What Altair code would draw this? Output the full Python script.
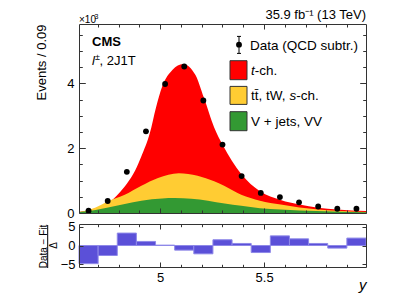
import altair as alt
import pandas as pd

# ---------------- data ----------------
bin_centers = [4.656, 4.748, 4.840, 4.932, 5.024, 5.116, 5.208, 5.300,
               5.392, 5.484, 5.576, 5.668, 5.760, 5.852, 5.944]
data_vals = [0.07, 0.37, 1.27, 2.52, 3.98, 4.52, 3.47, 2.11,
             1.14, 0.62, 0.49, 0.33, 0.20, 0.13, 0.13]          # x10^3 events
resid_vals = [-4.9, -2.7, 3.35, 1.1, 0.1, -1.25, -2.25, 1.55,
              0.55, -1.9, 2.6, 1.8, 0.55, -0.7, 2.0]
bin_half = 0.046

# stacked fit templates (cumulative heights, x10^3)
tch_x = [4.61, 4.69, 4.75, 4.80, 4.84, 4.88, 4.91, 4.95, 4.98, 5.01, 5.06, 5.11,
         5.17, 5.21, 5.26, 5.30, 5.39, 5.48, 5.58, 5.67, 5.76, 5.85, 5.99]
tch_y = [0.03, 0.15, 0.30, 0.59, 0.90, 1.31, 1.75, 2.45, 3.25, 3.90, 4.42, 4.60,
         4.26, 3.57, 2.64, 2.11, 1.20, 0.67, 0.40, 0.26, 0.16, 0.11, 0.06]
top_x = [4.61, 4.69, 4.75, 4.83, 4.91, 4.99, 5.09, 5.18, 5.26, 5.31, 5.39, 5.48,
         5.58, 5.67, 5.76, 5.85, 5.99]
top_y = [0.03, 0.17, 0.36, 0.56, 0.84, 1.08, 1.23, 1.15, 0.98, 0.83, 0.56, 0.38,
         0.26, 0.17, 0.11, 0.07, 0.03]
vj_x = [4.61, 4.69, 4.75, 4.83, 4.91, 5.01, 5.07, 5.15, 5.23, 5.31, 5.39, 5.48,
        5.58, 5.67, 5.83, 5.99]
vj_y = [0.03, 0.09, 0.17, 0.28, 0.38, 0.45, 0.46, 0.44, 0.38, 0.29, 0.22, 0.15,
        0.11, 0.08, 0.05, 0.02]

x_minor = [4.7, 4.8, 4.9, 5.1, 5.2, 5.3, 5.4, 5.6, 5.7, 5.8, 5.9]
x_major = [5.0, 5.5]
y_minor = [0.5, 1.0, 1.5, 2.5, 3.0, 3.5, 4.5, 5.0, 5.5]
y_major = [0, 2, 4]
r_ticks = [-5, 0, 5]

# ---------------- layout / style ----------------
W, H, RH = 287, 189, 43
FONT = "Liberation Sans"
AX = "#333333"
RED, YEL, GRN = "#ff0000", "#ffcc33", "#339933"
BLUE, BLUE_EDGE = "#5b50d8", "#8e88e8"

xs = alt.Scale(domain=[4.61, 5.99], nice=False, zero=False)
ys = alt.Scale(domain=[0, 5.83], nice=False, zero=False)
rs = alt.Scale(domain=[-5.8, 5.8], nice=False, zero=False)

pts = pd.DataFrame({"x": bin_centers, "y": data_vals})
res = pd.DataFrame({"x": bin_centers, "r": resid_vals})
res["lo"] = res["x"] - bin_half
res["hi"] = res["x"] + bin_half
res["z"] = 0.0
one = pd.DataFrame({"a": [0]})


def tick_axis(orient, offset, values, size):
    return alt.Axis(orient=orient, offset=offset, values=values, tickSize=size,
                    ticks=True, labels=False, domain=False, grid=False, title=None,
                    tickColor=AX, tickWidth=1, zindex=2)


def border_axis(orient):
    return alt.Axis(orient=orient, labels=False, ticks=False, tickSize=0, domain=True,
                    domainColor=AX, domainWidth=1, grid=False, title=None, zindex=2)


def ticks_layer(df, yfield, yscale, xax, yax):
    return alt.Chart(df).mark_point(opacity=0).encode(
        x=alt.X("x:Q", scale=xs, axis=xax),
        y=alt.Y(yfield, scale=yscale, axis=yax),
    )


def text(t, x, y, size=13, align="left", weight="normal", style="normal", angle=0,
         baseline="alphabetic"):
    return alt.Chart(one).mark_text(text=t, font=FONT, fontSize=size, align=align,
                                    baseline=baseline, fontWeight=weight,
                                    fontStyle=style, color="black", angle=angle).encode(
        x=alt.value(x), y=alt.value(y))


# ---------------- main panel ----------------
red = alt.Chart(pd.DataFrame({"x": tch_x, "y": tch_y})).mark_area(
    color=RED, interpolate="monotone").encode(
    x=alt.X("x:Q", scale=xs, axis=border_axis("bottom")),
    y=alt.Y("y:Q", scale=ys, axis=alt.Axis(
        orient="left", values=y_major, ticks=False, tickSize=0, labelPadding=5,
        labelFont=FONT, labelFontSize=13, labelColor="black", domain=True,
        domainColor=AX, grid=False, title="Events / 0.09", titleFont=FONT,
        titleFontSize=13, titleFontWeight="normal", titleColor="black",
        titleAngle=270, titleAlign="right", titleBaseline="alphabetic",
        titleX=-34, titleY=0, zindex=2)),
)
yel = alt.Chart(pd.DataFrame({"x": top_x, "y": top_y})).mark_area(
    color=YEL, interpolate="monotone").encode(
    x=alt.X("x:Q", scale=xs, axis=border_axis("top")),
    y=alt.Y("y:Q", scale=ys, axis=border_axis("right")),
)
grn = alt.Chart(pd.DataFrame({"x": vj_x, "y": vj_y})).mark_area(
    color=GRN, interpolate="monotone").encode(
    x=alt.X("x:Q", scale=xs, axis=tick_axis("top", -H, x_minor, 3)),
    y=alt.Y("y:Q", scale=ys, axis=tick_axis("right", -W, y_minor, 3.3)),
)
dots = alt.Chart(pts).mark_circle(size=34, color="black", opacity=1).encode(
    x=alt.X("x:Q", scale=xs, axis=tick_axis("bottom", -H, x_minor, 3)),
    y=alt.Y("y:Q", scale=ys, axis=tick_axis("left", -W, y_minor, 3.3)),
)
maj1 = ticks_layer(pts, "y:Q", ys, tick_axis("top", -H, x_major, 5),
                   tick_axis("right", -W, y_major, 6.3))
maj2 = ticks_layer(pts, "y:Q", ys, tick_axis("bottom", -H, x_major, 5),
                   tick_axis("left", -W, y_major, 6.3))

annots = [
    text("35.9 fb\u207b\u00b9 (13 TeV)", W, -5.3, size=13, align="right"),
    text("\u00d710", 0, -1, size=10),
    text("3", 15.5, -5, size=7),
    text("CMS", 13, 21.7, size=13, weight="bold"),
    text("l", 13, 40.7, size=13, style="italic"),
    text("\u00b1", 16, 35.5, size=9),
    text(", 2J1T", 20.5, 40.7, size=13),
    # legend
    text("Data (QCD subtr.)", 171, 26, size=13.5),
    text("t", 172, 51, size=13.5, style="italic"),
    text("-ch.", 175.8, 51, size=13.5),
    text("tt\u0304, tW, ", 172, 76, size=13.5),
    text("s", 210.5, 76, size=13.5, style="italic"),
    text("-ch.", 217.3, 76, size=13.5),
    text("V + jets, VV", 172, 101.5, size=13.5),
]


def box(y0, y1, color):
    return alt.Chart(one).mark_rect(fill=color, stroke=AX, strokeWidth=1).encode(
        x=alt.value(151), x2=alt.value(168), y=alt.value(y0), y2=alt.value(y1))


legend = [
    alt.Chart(one).mark_rule(color="black", strokeWidth=1).encode(
        x=alt.value(160), y=alt.value(12.4), y2=alt.value(29.4)),
    alt.Chart(one).mark_rule(color="black", strokeWidth=1).encode(
        x=alt.value(158), x2=alt.value(162), y=alt.value(12.4)),
    alt.Chart(one).mark_rule(color="black", strokeWidth=1).encode(
        x=alt.value(158), x2=alt.value(162), y=alt.value(29.4)),
    alt.Chart(one).mark_circle(size=34, color="black", opacity=1).encode(
        x=alt.value(160), y=alt.value(20.7)),
    box(36.7, 55.7, RED),
    box(62.4, 80.4, YEL),
    box(87.7, 106.7, GRN),
]

main = alt.layer(red, yel, grn, dots, maj1, maj2, *annots, *legend).resolve_axis(
    x="independent", y="independent").properties(width=W, height=H)

# ---------------- residual panel ----------------
bars = alt.Chart(res).mark_rect(fill=BLUE, stroke=BLUE_EDGE, strokeWidth=1).encode(
    x=alt.X("lo:Q", scale=xs, axis=alt.Axis(
        orient="bottom", values=x_major, format="~g", ticks=False, tickSize=0,
        labelPadding=4, labelFont=FONT, labelFontSize=13, labelColor="black",
        domain=True, domainColor=AX, grid=False, title="y", titleFont=FONT,
        titleFontSize=15, titleFontStyle="italic", titleFontWeight="normal",
        titleColor="black", titleAnchor="end", titleAlign="right",
        titleBaseline="alphabetic", titleX=W, titleY=22, zindex=2)),
    x2="hi:Q",
    y=alt.Y("r:Q", scale=rs, axis=alt.Axis(
        orient="left", values=r_ticks, ticks=False, tickSize=0, labelPadding=4,
        labelFont=FONT, labelFontSize=13, labelColor="black", domain=True,
        domainColor=AX, grid=False, title=None, zindex=2)),
    y2="z:Q",
)
rb = ticks_layer(res, "r:Q", rs, border_axis("top"), border_axis("right"))
rt1 = ticks_layer(res, "r:Q", rs, tick_axis("top", -RH, x_minor, 2.7),
                  tick_axis("right", -W, r_ticks, 4))
rt2 = ticks_layer(res, "r:Q", rs, tick_axis("bottom", -RH, x_minor, 2.7),
                  tick_axis("left", -W, r_ticks, 4))
rt3 = ticks_layer(res, "r:Q", rs, tick_axis("top", -RH, x_major, 5),
                  tick_axis("right", -W, [], 4))
rt4 = ticks_layer(res, "r:Q", rs, tick_axis("bottom", -RH, x_major, 5),
                  tick_axis("left", -W, [], 4))

rtitle = [
    text("Data \u2212 Fit", -32.5, 22.5, size=10, align="center", angle=270),
    text("\u0394", -22, 21.5, size=10, align="center", angle=270),
    alt.Chart(one).mark_rule(color="black", strokeWidth=1).encode(
        x=alt.value(-31.3), y=alt.value(1), y2=alt.value(44)),
]

resid = alt.layer(bars, rb, rt1, rt2, rt3, rt4, *rtitle).resolve_axis(
    x="independent", y="independent").properties(width=W, height=RH)

chart = alt.vconcat(main, resid, spacing=0).properties(
    padding={"left": 27, "top": 0, "right": 5, "bottom": 5},
    background="white",
).configure_view(stroke=None)

chart.save("out.html", embed_options={"renderer": "svg", "actions": False})
